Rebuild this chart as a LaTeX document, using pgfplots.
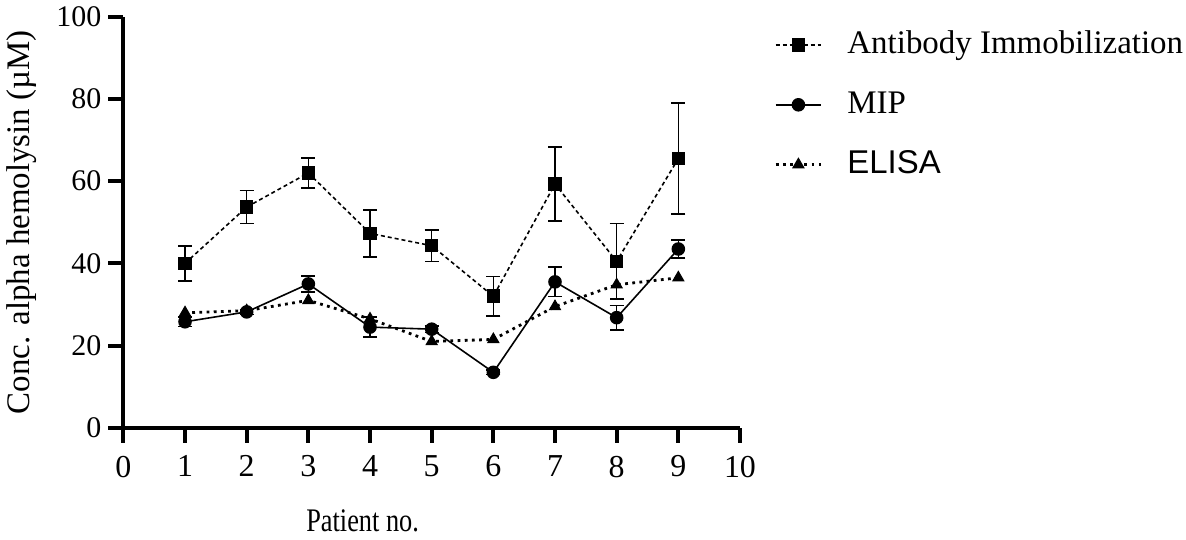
\documentclass[border=0pt]{standalone}
\usepackage{fontspec}
\setmainfont{Liberation Serif}
\newfontfamily\sansf{Liberation Sans}
\newfontfamily\condserif{Liberation Serif}[FakeStretch=0.8]
\usepackage{pgfplots}
\usepackage{pgfplotstable}
\pgfplotsset{compat=1.18}
\pgfplotstableread{
x y e
1 40.0 4.3
2 53.7 4.0
3 62.0 3.7
4 47.3 5.7
5 44.3 3.8
6 32.0 4.8
7 59.3 9.0
8 40.5 9.2
9 65.5 13.5
}\antibody
\pgfplotstableread{
x y e
1 25.8 1.2
2 28.2 0.6
3 35.0 2.0
4 24.5 2.4
5 24.0 0.8
6 13.5 0.5
7 35.5 3.6
8 26.8 3.0
9 43.5 2.2
}\mip
\pgfplotstableread{
x y
1 28.0
2 28.5
3 31.0
4 26.5
5 21.0
6 21.5
7 29.5
8 34.8
9 36.5
}\elisa
\begin{document}
\begin{tikzpicture}
\begin{axis}[
  scale only axis, width=309pt, height=206pt,
  xmin=0, xmax=10, ymin=0, ymax=100,
  xtick={0,1,...,10}, ytick={0,20,...,100},
  axis x line*=bottom, axis y line*=left,
  axis line style={line width=2pt},
  tick align=outside, major tick length=7.5pt,
  tick style={line width=2pt, black},
  yticklabel style={font=\fontsize{15}{15}\selectfont},
  xticklabel style={font=\fontsize{16}{16}\selectfont, yshift=-3pt},
  /pgf/number format/assume math mode=true,
  clip=false,
  xlabel={Patient no.},
  ylabel={Conc. alpha hemolysin (µM)},
  xlabel style={at={(rel axis cs:0.388,-0.226)}, anchor=center, font=\condserif\fontsize{16.5}{16.5}\selectfont},
  ylabel style={at={(rel axis cs:-0.165,0.5)}, anchor=center, font=\fontsize{16.5}{16.5}\selectfont},
  legend style={at={(rel axis cs:1.055,0.97)}, anchor=north west, draw=none, fill=none,
    inner sep=0pt, row sep=14.5pt,
    nodes={inner sep=0pt, text height=12pt, text depth=3.5pt},
    font=\fontsize{16.5}{16.5}\selectfont,
    /tikz/every odd column/.append style={column sep=12.5pt}},
  legend cell align=left,
  legend image code/.code={\draw[mark repeat=2, mark phase=2, #1] plot coordinates {(0cm,0cm) (0.4cm,0cm) (0.8cm,0cm)};},
]
\addplot[black, line width=0.8pt, dash pattern=on 2pt off 1.5pt, mark=square*, mark size=3pt, mark options={solid, fill=black},
  error bars/.cd, y dir=both, y explicit,
  error bar style={solid, line width=0.8pt},
  error mark options={rotate=90, mark size=3.5pt, line width=0.8pt, solid}]
  table[x=x, y=y, y error=e] {\antibody};
\addlegendentry{Antibody Immobilization}
\addplot[black, line width=0.8pt, solid, mark=*, mark size=3pt, mark options={solid, fill=black},
  error bars/.cd, y dir=both, y explicit,
  error bar style={solid, line width=0.8pt},
  error mark options={rotate=90, mark size=3.5pt, line width=0.8pt, solid}]
  table[x=x, y=y, y error=e] {\mip};
\addlegendentry{MIP}
\addplot[black, line width=1.4pt, dash pattern=on 1.4pt off 2.2pt, mark=triangle*, mark size=3.2pt, mark options={solid, fill=black, line width=0.5pt}]
  table[x=x, y=y] {\elisa};
\addlegendentry{{\sansf ELISA}}
\coordinate (O) at (rel axis cs:0,0);
\end{axis}
\path (O) ++(-60.5pt,-56pt) rectangle ++(593pt,269.5pt);
\end{tikzpicture}
\end{document}
